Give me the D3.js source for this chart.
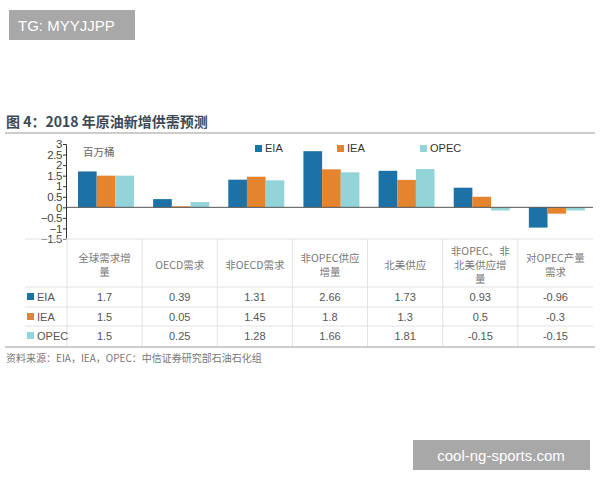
<!DOCTYPE html>
<html>
<head>
<meta charset="utf-8">
<script src="https://cdn.jsdelivr.net/npm/d3@7"></script>
<style>
  body { margin: 0; background: #fff; }
  svg { display: block; font-family: "Noto Sans CJK SC", "Noto Sans", sans-serif; }
</style>
</head>
<body>
<div id="chart"></div>
<script>
// categories (table headers, split into lines)
const categories = ["全球需求增量", "OECD需求", "非OECD需求", "非OPEC供应增量", "北美供应", "非OPEC、非北美供应增量", "对OPEC产量需求"];
const headerLines = [
    ["全球需求增", "量"],
    ["OECD需求"],
    ["非OECD需求"],
    ["非OPEC供应", "增量"],
    ["北美供应"],
    ["非OPEC、非", "北美供应增", "量"],
    ["对OPEC产量", "需求"]
];
const series = ["EIA", "IEA", "OPEC"];
const eiaValues = [1.7, 0.39, 1.31, 2.66, 1.73, 0.93, -0.96];
const ieaValues = [1.5, 0.05, 1.45, 1.8, 1.3, 0.5, -0.3];
const opecValues = [1.5, 0.25, 1.28, 1.66, 1.81, -0.15, -0.15];
const yTicks = [3, 2.5, 2, 1.5, 1, 0.5, 0, -0.5, -1, -1.5];

const colors = {EIA: "#1c72a6", IEA: "#e5842e", OPEC: "#93d4d8"};
const values = {EIA: eiaValues, IEA: ieaValues, OPEC: opecValues};

const svg = d3.select("#chart").append("svg")
    .attr("width", 600)
    .attr("height", 480);

// title
svg.append("text")
    .attr("x", 6).attr("y", 127)
    .attr("font-size", 14).attr("font-weight", "bold")
    .attr("fill", "#3c4a55")
    .text("图 4：2018 年原油新增供需预测");
svg.append("line")
    .attr("x1", 5).attr("x2", 595).attr("y1", 133).attr("y2", 133)
    .attr("stroke", "#999").attr("stroke-width", 1.2);

const x0 = d3.scaleBand().domain(categories).range([67, 593]);
const x1 = d3.scaleBand().domain(series).range([11, 67]);
const y = d3.scaleLinear().domain([-1.5, 3]).range([239, 144]);

// bars
categories.forEach(function(c, i) {
    const g = svg.append("g").attr("transform", `translate(${x0(c)},0)`);
    g.selectAll("rect")
        .data(series.map(s => ({s: s, v: values[s][i]})))
        .join("rect")
        .attr("x", d => x1(d.s))
        .attr("width", x1.bandwidth())
        .attr("y", d => y(Math.max(0, d.v)))
        .attr("height", d => Math.abs(y(d.v) - y(0)))
        .attr("fill", d => colors[d.s]);
});

// zero line
svg.append("line")
    .attr("x1", 67).attr("x2", 593).attr("y1", y(0)).attr("y2", y(0))
    .attr("stroke", "#555").attr("stroke-width", 1);

// y axis
const yAxis = svg.append("g")
    .attr("transform", "translate(66,0)")
    .call(d3.axisLeft(y).tickValues(yTicks).tickSize(3).tickFormat(d3.format("")));
yAxis.select(".domain").attr("stroke", "#333");
yAxis.selectAll(".tick line").attr("stroke", "#333");
yAxis.selectAll("text").attr("font-size", 11.5).attr("fill", "#444")
    .attr("letter-spacing", -0.4)
    .attr("font-family", "Liberation Sans, sans-serif").attr("x", -4);

// unit
svg.append("text")
    .attr("x", 83).attr("y", 156)
    .attr("font-size", 10.5).attr("fill", "#666")
    .text("百万桶");

// legend
const legendX = [255, 337, 420];
series.forEach(function(s, i) {
    svg.append("rect")
        .attr("x", legendX[i]).attr("y", 145)
        .attr("width", 7).attr("height", 7)
        .attr("fill", colors[s]);
    svg.append("text")
        .attr("x", legendX[i] + 10).attr("y", 152)
        .attr("font-size", 11).attr("fill", "#333")
        .attr("font-family", "Liberation Sans, sans-serif")
        .text(s);
});

// table
const rowLines = [239, 287, 307, 326];
rowLines.forEach(function(ry) {
    svg.append("line")
        .attr("x1", 25).attr("x2", 593).attr("y1", ry).attr("y2", ry)
        .attr("stroke", "#e2e2e2").attr("stroke-width", 1);
});
svg.append("line")
    .attr("x1", 5).attr("x2", 595).attr("y1", 347).attr("y2", 347)
    .attr("stroke", "#999").attr("stroke-width", 1.2);

categories.forEach(function(c, i) {
    svg.append("line")
        .attr("x1", x0(c)).attr("x2", x0(c)).attr("y1", 239).attr("y2", 346)
        .attr("stroke", "#e2e2e2").attr("stroke-width", 1);
    const cx = x0(c) + x0.bandwidth() / 2;
    const lines = headerLines[i];
    const lh = 14;
    const startY = 265 - (lines.length - 1) * lh / 2 + 4;
    lines.forEach(function(t, k) {
        svg.append("text")
            .attr("x", cx).attr("y", startY + k * lh)
            .attr("text-anchor", "middle")
            .attr("font-size", 10.5).attr("fill", "#777")
            .text(t);
    });
});

const rowY = [301, 321, 340];
series.forEach(function(s, r) {
    svg.append("rect")
        .attr("x", 27).attr("y", rowY[r] - 8)
        .attr("width", 7).attr("height", 7)
        .attr("fill", colors[s]);
    svg.append("text")
        .attr("x", 37).attr("y", rowY[r])
        .attr("font-size", 11).attr("fill", "#555")
        .attr("font-family", "Liberation Sans, sans-serif")
        .text(s);
    categories.forEach(function(c, i) {
        svg.append("text")
            .attr("x", x0(c) + x0.bandwidth() / 2).attr("y", rowY[r])
            .attr("text-anchor", "middle")
            .attr("font-size", 11).attr("fill", "#555")
            .attr("font-family", "Liberation Sans, sans-serif")
            .text(values[s][i]);
    });
});

// source
svg.append("text")
    .attr("x", 6).attr("y", 362)
    .attr("font-size", 10).attr("fill", "#777")
    .text("资料来源：EIA，IEA，OPEC：中信证券研究部石油石化组");

// watermarks
svg.append("rect")
    .attr("x", 9).attr("y", 10).attr("width", 126).attr("height", 30)
    .attr("fill", "#a8a8a8");
svg.append("text")
    .attr("x", 18).attr("y", 31)
    .attr("font-size", 15).attr("fill", "#fff")
    .attr("font-family", "Liberation Sans, sans-serif")
    .text("TG: MYYJJPP");
svg.append("rect")
    .attr("x", 413).attr("y", 440).attr("width", 177).attr("height", 30)
    .attr("fill", "#a8a8a8");
svg.append("text")
    .attr("x", 501).attr("y", 461)
    .attr("text-anchor", "middle")
    .attr("font-size", 15).attr("fill", "#fff")
    .attr("font-family", "Liberation Sans, sans-serif")
    .text("cool-ng-sports.com");
</script>
</body>
</html>
